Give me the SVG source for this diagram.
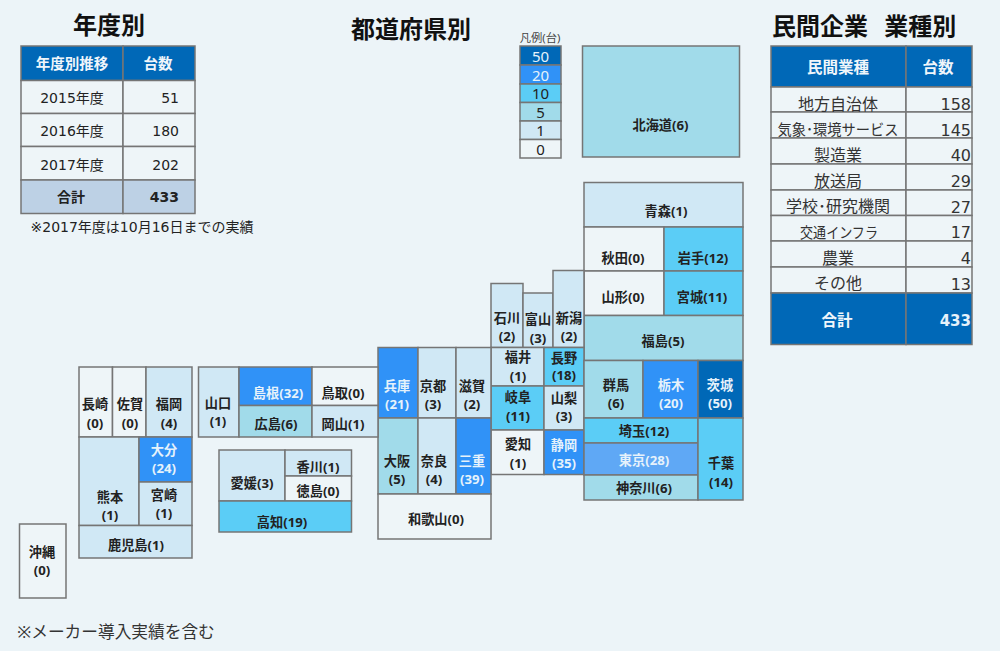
<svg xmlns="http://www.w3.org/2000/svg" width="1000" height="651" viewBox="0 0 1000 651">
<style>
text{font-family:"Noto Sans","Noto Sans CJK JP",sans-serif;fill:#222;text-anchor:middle}
rect{stroke:#757575;stroke-width:1.5}
.c50{fill:#0068b7}.c20{fill:#3092f7}.c10{fill:#5bcdf6}.c5{fill:#a1dbea}.c1{fill:#d0e8f5}.c0{fill:#eef5f8}.tk{fill:#5fa8f5}.tot{fill:#bdd1e5}
.m{font-size:13.2px;font-weight:700}
.w{fill:#e6f2fb}
.title{font-size:24px;font-weight:700;fill:#111}
.th{font-size:14.5px;font-weight:700;fill:#f0f6fb}
.td{font-family:"DejaVu Sans","Noto Sans CJK JP",sans-serif;font-size:14px}
.r{text-anchor:end}
.rt{font-family:"DejaVu Sans","Noto Sans CJK JP",sans-serif;font-size:16px;fill:#333}
.b{font-family:"DejaVu Sans","Noto Sans CJK JP",sans-serif;font-weight:700}
.lg{font-size:15px}
</style>
<rect x="0" y="0" width="1000" height="651" fill="#ecf4f8" style="stroke:none"/>
<text class="title" x="109" y="34">年度別</text>
<text class="title" x="411" y="38">都道府県別</text>
<text class="title" x="772" y="35" style="text-anchor:start">民間企業 <tspan dx="10">業種別</tspan></text>

<g id="year-table">
<rect class="c50" x="21" y="46" width="102" height="34.5"/><rect class="c50" x="123" y="46" width="72" height="34.5"/>
<rect class="c0" x="21" y="80.5" width="102" height="33"/><rect class="c0" x="123" y="80.5" width="72" height="33"/>
<rect class="c0" x="21" y="113.5" width="102" height="33"/><rect class="c0" x="123" y="113.5" width="72" height="33"/>
<rect class="c0" x="21" y="146.5" width="102" height="33.5"/><rect class="c0" x="123" y="146.5" width="72" height="33.5"/>
<rect class="tot" x="21" y="180" width="102" height="33.5"/><rect class="tot" x="123" y="180" width="72" height="33.5"/>
<text class="th" x="72" y="69">年度別推移</text><text class="th" x="158" y="69">台数</text>
<text class="td" x="72" y="103">2015年度</text><text class="td r" x="179" y="103">51</text>
<text class="td" x="72" y="136">2016年度</text><text class="td r" x="179" y="136">180</text>
<text class="td" x="72" y="170">2017年度</text><text class="td r" x="179" y="170">202</text>
<text class="m" x="71" y="202" style="font-size:14px">合計</text><text class="b r" x="179" y="202" style="font-size:14px">433</text>
</g>
<text class="td" x="142" y="232">※2017年度は10月16日までの実績</text>

<g id="industry-table">
<rect class="c50" x="771" y="46" width="135" height="41"/><rect class="c50" x="906" y="46" width="66" height="41"/>
<rect class="c0" x="771" y="87" width="135" height="25"/><rect class="c0" x="906" y="87" width="66" height="25"/>
<rect class="c0" x="771" y="112" width="135" height="26"/><rect class="c0" x="906" y="112" width="66" height="26"/>
<rect class="c0" x="771" y="138" width="135" height="26"/><rect class="c0" x="906" y="138" width="66" height="26"/>
<rect class="c0" x="771" y="164" width="135" height="26"/><rect class="c0" x="906" y="164" width="66" height="26"/>
<rect class="c0" x="771" y="190" width="135" height="25.5"/><rect class="c0" x="906" y="190" width="66" height="25.5"/>
<rect class="c0" x="771" y="215.5" width="135" height="25.5"/><rect class="c0" x="906" y="215.5" width="66" height="25.5"/>
<rect class="c0" x="771" y="241" width="135" height="26"/><rect class="c0" x="906" y="241" width="66" height="26"/>
<rect class="c0" x="771" y="267" width="135" height="26"/><rect class="c0" x="906" y="267" width="66" height="26"/>
<rect class="c50" x="771" y="293" width="135" height="51.5"/><rect class="c50" x="906" y="293" width="66" height="51.5"/>
<text class="th" x="838" y="73" style="font-size:15.5px">民間業種</text><text class="th" x="938" y="73" style="font-size:15.5px">台数</text>
<text class="rt" x="838" y="110">地方自治体</text><text class="rt r" x="971" y="110">158</text>
<text class="rt" x="838" y="135" style="font-size:15px" textLength="121" lengthAdjust="spacingAndGlyphs">気象･環境サービス</text><text class="rt r" x="971" y="136">145</text>
<text class="rt" x="838" y="161">製造業</text><text class="rt r" x="971" y="161">40</text>
<text class="rt" x="838" y="187">放送局</text><text class="rt r" x="971" y="187">29</text>
<text class="rt" x="838" y="212" textLength="104" lengthAdjust="spacingAndGlyphs">学校･研究機関</text><text class="rt r" x="971" y="213">27</text>
<text class="rt" x="839" y="238" style="font-size:15px" textLength="78" lengthAdjust="spacingAndGlyphs">交通インフラ</text><text class="rt r" x="971" y="238">17</text>
<text class="rt" x="838" y="264">農業</text><text class="rt r" x="971" y="264">4</text>
<text class="rt" x="838" y="289">その他</text><text class="rt r" x="971" y="290">13</text>
<text class="th" x="837" y="326" style="font-size:15.5px">合計</text><text class="b r" x="971" y="326" style="font-size:15px;fill:#e6f2fb">433</text>
</g>

<g id="legend">
<text x="540" y="42" style="font-size:11.3px;fill:#444">凡例(台)</text>
<rect class="c50" x="520" y="46" width="41" height="19"/><text class="lg w" x="540.500" y="62">50</text>
<rect class="c20" x="520" y="65" width="41" height="19"/><text class="lg w" x="540.500" y="81">20</text>
<rect class="c10" x="520" y="84" width="41" height="18.500"/><text class="lg" x="540.500" y="99">10</text>
<rect class="c5" x="520" y="102.500" width="41" height="18.500"/><text class="lg" x="540.500" y="118">5</text>
<rect class="c1" x="520" y="121" width="41" height="18.500"/><text class="lg" x="540.500" y="136">1</text>
<rect class="c0" x="520" y="139.500" width="41" height="18.500"/><text class="lg" x="540.500" y="155">0</text>
</g>

<g id="hokkaido"><rect class="c5" x="582.500" y="46" width="157" height="111"/><text class="m" x="660.500" y="130">北海道(6)</text></g>
<g id="aomori"><rect class="c1" x="584" y="182.500" width="159" height="44.500"/><text class="m" x="666" y="216">青森(1)</text></g>
<g id="akita"><rect class="c0" x="584" y="227" width="80" height="44"/><text class="m" x="623" y="263">秋田(0)</text></g>
<g id="iwate"><rect class="c10" x="664" y="227" width="79" height="44"/><text class="m" x="703" y="263">岩手(12)</text></g>
<g id="yamagata"><rect class="c0" x="584" y="271" width="80" height="44.500"/><text class="m" x="623" y="302">山形(0)</text></g>
<g id="miyagi"><rect class="c10" x="664" y="271" width="79" height="44.500"/><text class="m" x="702" y="302">宮城(11)</text></g>
<g id="fukushima"><rect class="c5" x="584" y="315.500" width="159" height="45"/><text class="m" x="663" y="346">福島(5)</text></g>
<g id="ishikawa"><rect class="c1" x="491" y="283.500" width="32" height="64"/><text class="m" x="507" y="323">石川</text><text class="m" x="507" y="341">(2)</text></g>
<g id="toyama"><rect class="c1" x="523" y="293" width="30" height="54.500"/><text class="m" x="538" y="324">富山</text><text class="m" x="538" y="343">(3)</text></g>
<g id="niigata"><rect class="c1" x="553" y="270.500" width="31" height="77"/><text class="m" x="569" y="323">新潟</text><text class="m" x="569" y="341">(2)</text></g>
<g id="fukui"><rect class="c1" x="491" y="347.500" width="53" height="38.500"/><text class="m" x="518" y="362">福井</text><text class="m" x="518" y="381">(1)</text></g>
<g id="nagano"><rect class="c10" x="544" y="347.500" width="40" height="38.500"/><text class="m" x="564" y="363">長野</text><text class="m" x="564" y="380">(18)</text></g>
<g id="gifu"><rect class="c10" x="491" y="386" width="53" height="44"/><text class="m" x="518" y="402">岐阜</text><text class="m" x="518" y="421">(11)</text></g>
<g id="yamanashi"><rect class="c1" x="544" y="386" width="40" height="44"/><text class="m" x="564" y="403">山梨</text><text class="m" x="564" y="421">(3)</text></g>
<g id="aichi"><rect class="c0" x="491" y="430" width="53" height="44.500"/><text class="m" x="518" y="449">愛知</text><text class="m" x="518" y="468">(1)</text></g>
<g id="shizuoka"><rect class="c20" x="544" y="430" width="40" height="44.500"/><text class="m w" x="564" y="450">静岡</text><text class="m w" x="564" y="468">(35)</text></g>
<g id="hyogo"><rect class="c20" x="378" y="347.500" width="40" height="70.500"/><text class="m w" x="397" y="391">兵庫</text><text class="m w" x="397" y="409">(21)</text></g>
<g id="kyoto"><rect class="c1" x="418" y="347.500" width="38" height="70.500"/><text class="m" x="433" y="391">京都</text><text class="m" x="433" y="409">(3)</text></g>
<g id="shiga"><rect class="c1" x="456" y="347.500" width="35" height="70.500"/><text class="m" x="472" y="391">滋賀</text><text class="m" x="472" y="409">(2)</text></g>
<g id="osaka"><rect class="c5" x="378" y="418" width="40" height="76"/><text class="m" x="397" y="466">大阪</text><text class="m" x="397" y="484">(5)</text></g>
<g id="nara"><rect class="c1" x="418" y="418" width="38" height="76"/><text class="m" x="434" y="466">奈良</text><text class="m" x="434" y="484">(4)</text></g>
<g id="mie"><rect class="c20" x="456" y="418" width="35" height="76"/><text class="m w" x="472" y="466">三重</text><text class="m w" x="472" y="484">(39)</text></g>
<g id="wakayama"><rect class="c0" x="378" y="494" width="113" height="45"/><text class="m" x="436" y="524">和歌山(0)</text></g>
<g id="gunma"><rect class="c5" x="584" y="360.500" width="59" height="57.500"/><text class="m" x="616" y="390">群馬</text><text class="m" x="616" y="408">(6)</text></g>
<g id="tochigi"><rect class="c20" x="643" y="360.500" width="55" height="57.500"/><text class="m w" x="671" y="390">栃木</text><text class="m w" x="671" y="408">(20)</text></g>
<g id="ibaraki"><rect class="c50" x="698" y="360.500" width="45" height="57.500"/><text class="m w" x="720" y="390">茨城</text><text class="m w" x="720" y="408">(50)</text></g>
<g id="saitama"><rect class="c10" x="584" y="418" width="114" height="25"/><text class="m" x="644" y="436">埼玉(12)</text></g>
<g id="tokyo"><rect class="tk" x="584" y="443" width="114" height="32"/><text class="m w" x="644" y="465">東京(28)</text></g>
<g id="kanagawa"><rect class="c5" x="584" y="475" width="114" height="25"/><text class="m" x="644" y="493">神奈川(6)</text></g>
<g id="chiba"><rect class="c10" x="698" y="418" width="45" height="82"/><text class="m" x="721" y="468">千葉</text><text class="m" x="721" y="487">(14)</text></g>
<g id="yamaguchi"><rect class="c1" x="198.500" y="367" width="40.500" height="70"/><text class="m" x="218" y="408">山口</text><text class="m" x="218" y="426">(1)</text></g>
<g id="shimane"><rect class="c20" x="239" y="367" width="73" height="38.500"/><text class="m w" x="278" y="398">島根(32)</text></g>
<g id="tottori"><rect class="c0" x="312" y="367" width="66" height="38.500"/><text class="m" x="343" y="398">鳥取(0)</text></g>
<g id="hiroshima"><rect class="c5" x="239" y="405.500" width="73" height="31.500"/><text class="m" x="276" y="429">広島(6)</text></g>
<g id="okayama"><rect class="c1" x="312" y="405.500" width="66" height="31.500"/><text class="m" x="343" y="429">岡山(1)</text></g>
<g id="ehime"><rect class="c1" x="219" y="450" width="66" height="51"/><text class="m" x="252" y="488">愛媛(3)</text></g>
<g id="kagawa"><rect class="c1" x="285" y="450" width="66.500" height="26"/><text class="m" x="318" y="472">香川(1)</text></g>
<g id="tokushima"><rect class="c0" x="285" y="476" width="66.500" height="25"/><text class="m" x="318" y="496">徳島(0)</text></g>
<g id="kochi"><rect class="c10" x="219" y="501" width="132.500" height="31"/><text class="m" x="282" y="527">高知(19)</text></g>
<g id="nagasaki"><rect class="c0" x="79" y="367" width="33.500" height="70"/><text class="m" x="95" y="409">長崎</text><text class="m" x="95" y="428">(0)</text></g>
<g id="saga"><rect class="c0" x="112.500" y="367" width="33.500" height="70"/><text class="m" x="130" y="409">佐賀</text><text class="m" x="130" y="428">(0)</text></g>
<g id="fukuoka"><rect class="c1" x="146" y="367" width="46" height="70"/><text class="m" x="169" y="409">福岡</text><text class="m" x="169" y="428">(4)</text></g>
<g id="kumamoto"><rect class="c1" x="79" y="437" width="60" height="88.500"/><text class="m" x="110" y="502">熊本</text><text class="m" x="110" y="520">(1)</text></g>
<g id="oita"><rect class="c20" x="139" y="437" width="53" height="45"/><text class="m w" x="164" y="455">大分</text><text class="m w" x="164" y="473">(24)</text></g>
<g id="miyazaki"><rect class="c1" x="139" y="482" width="53" height="43.500"/><text class="m" x="164" y="500">宮崎</text><text class="m" x="164" y="518">(1)</text></g>
<g id="kagoshima"><rect class="c1" x="79" y="525.500" width="113" height="32.500"/><text class="m" x="136" y="550">鹿児島(1)</text></g>
<g id="okinawa"><rect class="c0" x="19.500" y="524" width="46.500" height="74"/><text class="m" x="42" y="557">沖縄</text><text class="m" x="42" y="575">(0)</text></g>
<text x="116" y="638" style="font-size:16.700px;fill:#333">※メーカー導入実績を含む</text>
<g id="connectors"/>
</svg>
